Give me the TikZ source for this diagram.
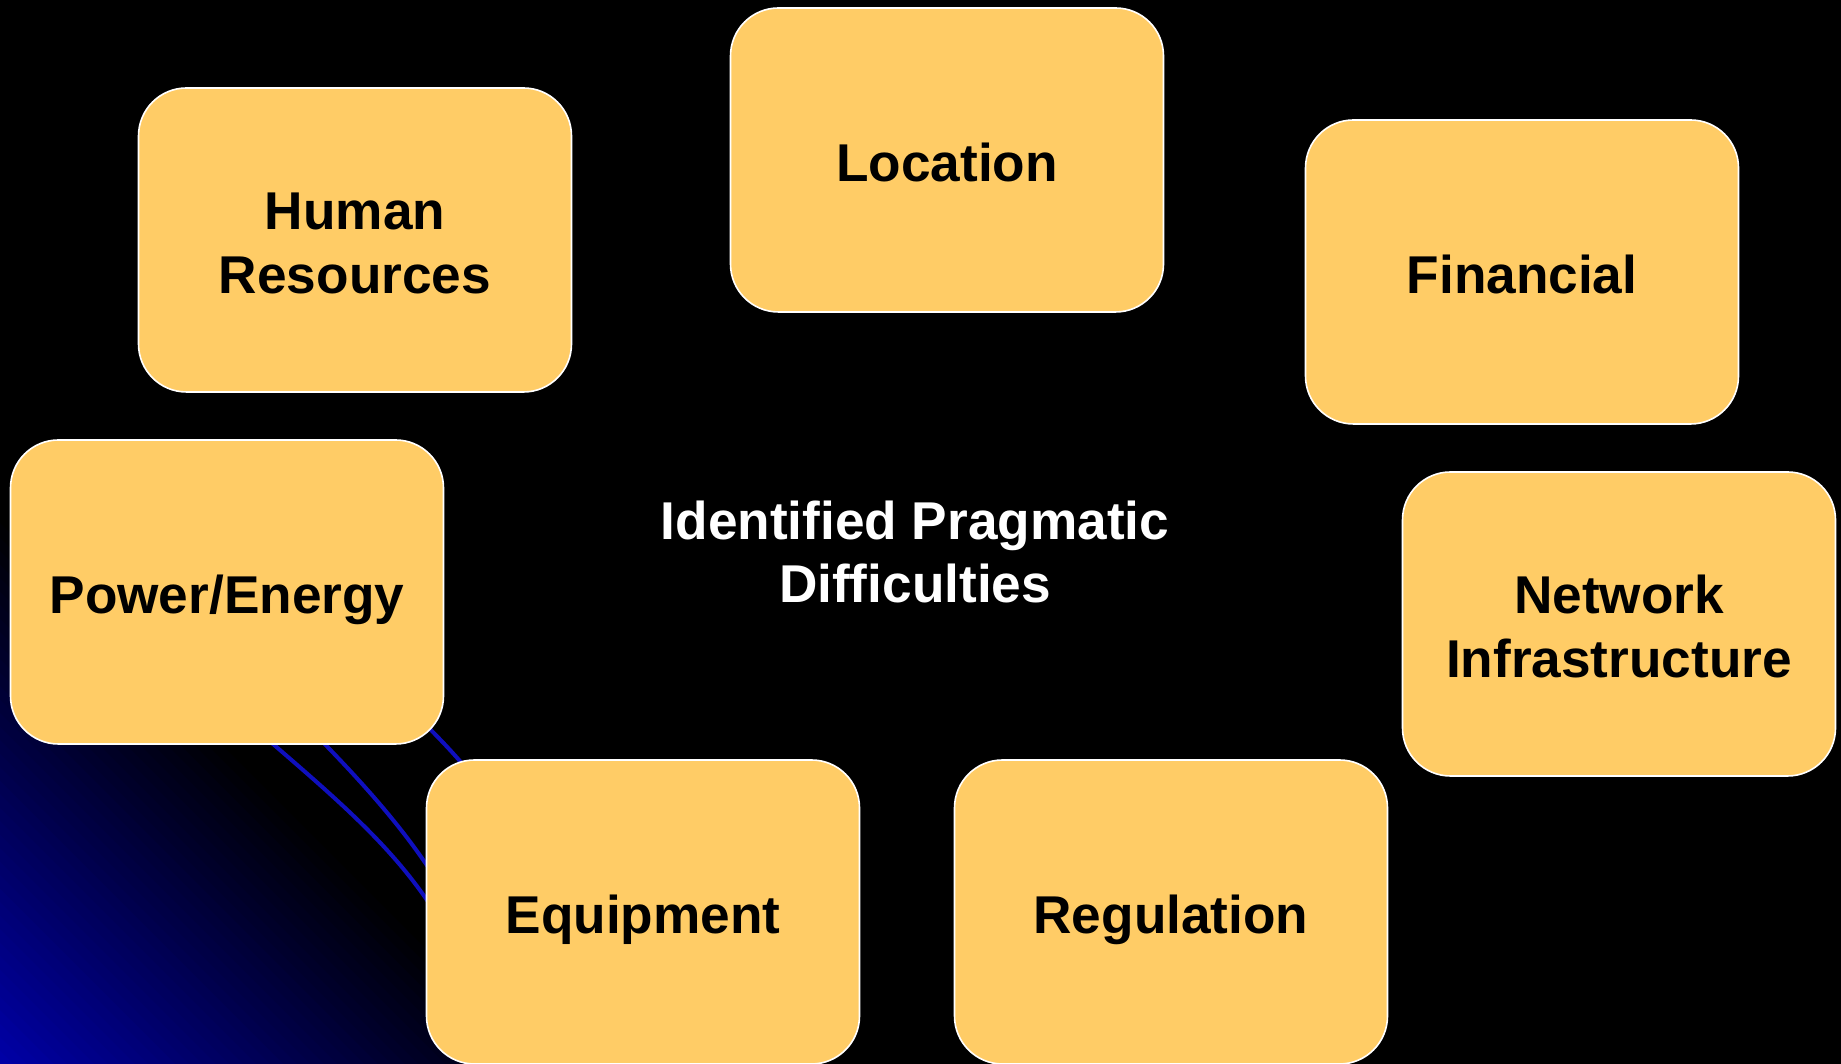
\documentclass[tikz,border=0pt]{standalone}
\usepackage{fontspec}
\setmainfont{Liberation Sans}
\definecolor{boxfill}{RGB}{255,204,102}
\definecolor{bgblue}{RGB}{0,0,165}
\definecolor{lineblue}{RGB}{15,15,190}
\newcommand{\twolines}[2]{\raisebox{-4.3pt}[\height][\depth]{\begin{tabular}{@{}c@{}}#1\\#2\end{tabular}}}
\begin{document}
\begin{tikzpicture}[x=0.5pt,y=0.5pt,
  card/.style={draw=white, line width=0.8pt, fill=boxfill, rounded corners=24pt,
    minimum width=216.5pt, minimum height=152pt, inner sep=0pt, align=center,
    font=\fontsize{26.6}{31.8}\selectfont\bfseries, text=black},
  oneline/.style={card, text height=21.4pt, text depth=0pt},
  title/.style={align=center, font=\fontsize{26.6}{31.8}\selectfont\bfseries, text=white},
  swoosh/.style={draw=lineblue, line width=2pt}]
\renewcommand{\arraystretch}{1}
\useasboundingbox (0,0) rectangle (1841,1064);
\fill[black] (0,0) rectangle (1841,1064);
% gradient in the lower left corner
\foreach \i in {0,...,39}{
  \pgfmathsetmacro{\a}{\i*13.5}
  \pgfmathsetmacro{\b}{(\i+1)*13.5+1}
  \pgfmathsetmacro{\p}{100-\i*2.5}
  \fill[bgblue!\p!black] (\a,0) -- (\b,0) -- (0,\b) -- (0,\a) -- cycle;
}
% decorative swooshes
\draw[swoosh] (250,340) .. controls (330,270) and (400,215) .. (445,135);
\draw[swoosh] (300,345) .. controls (360,285) and (410,230) .. (445,170);
\draw[swoosh] (415,350) .. controls (435,330) and (455,310) .. (475,285);
% boxes
\node[card] (hr) at (355,824) {\twolines{Human}{Resources}};
\node[oneline] (loc) at (947,904) {Location};
\node[oneline] (fin) at (1522,792) {Financial};
\node[oneline] (pow) at (227,472) {Power/Energy};
\node[card] (net) at (1619,440) {\twolines{Network}{Infrastructure}};
\node[oneline] (equ) at (643,152) {Equipment};
\node[oneline] (reg) at (1171,152) {Regulation};
\node[title] (center) at (915,512) {Identified Pragmatic\\Difficulties};
\end{tikzpicture}
\end{document}
